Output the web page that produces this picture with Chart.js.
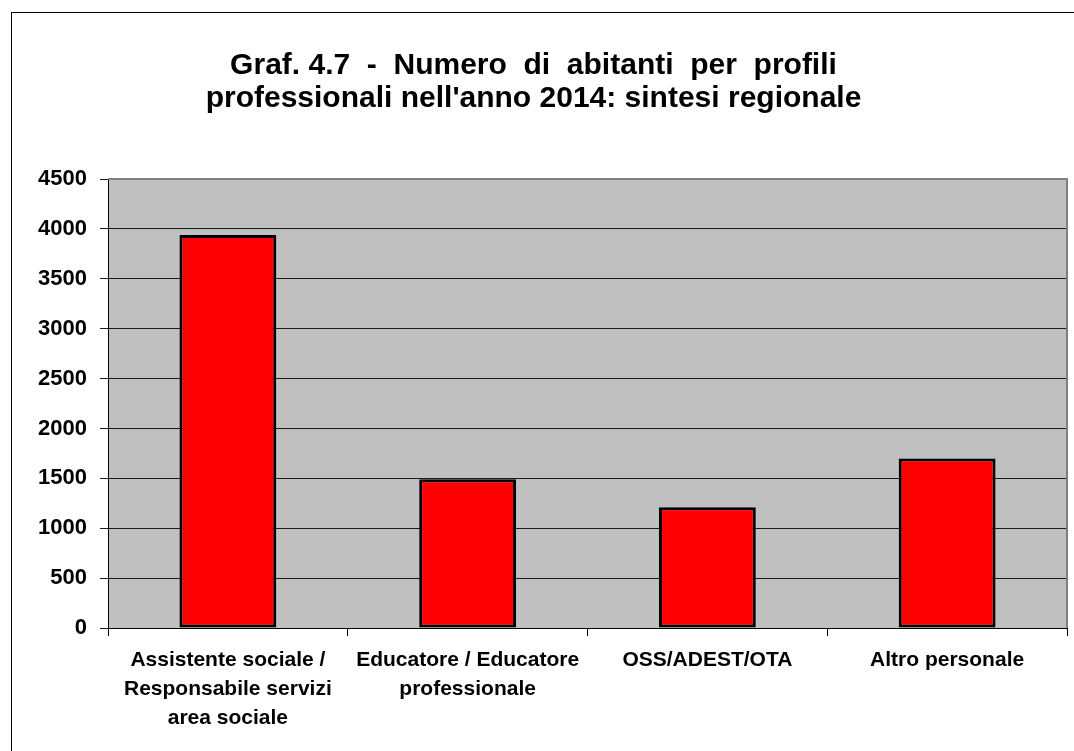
<!DOCTYPE html>
<html>
<head>
<meta charset="utf-8">
<script src="https://cdn.jsdelivr.net/npm/chart.js@4"></script>
<style>
  body { margin: 0; background: #fff; }
  #box { position: relative; width: 1074px; height: 751px; overflow: hidden; }
  #cornice { position: absolute; left: 11px; top: 12px; width: 1100px; height: 800px; border: 1px solid #000; box-sizing: border-box; }
  canvas { position: absolute; left: 0; top: 0; }
</style>
</head>
<body>
<div id="box">
  <div id="cornice"></div>
  <canvas id="graficoProfili" width="1074" height="751"></canvas>
</div>
<script>
// Dati
const profili = [
    ['Assistente sociale /', 'Responsabile servizi', 'area sociale'],
    ['Educatore / Educatore', 'professionale'],
    'OSS/ADEST/OTA',
    'Altro personale'
];
const abitanti = [3940, 1490, 1210, 1700];
const tickY = [0, 500, 1000, 1500, 2000, 2500, 3000, 3500, 4000, 4500];

// sfondo grigio dell'area del grafico + bordo
const sfondoArea = {
    id: 'sfondoArea',
    beforeDatasetsDraw(chart) {
        const a = chart.chartArea;
        const ctx = chart.ctx;
        ctx.save();
        ctx.strokeStyle = '#808080';
        ctx.lineWidth = 2;
        ctx.beginPath();
        ctx.moveTo(a.left, a.top);
        ctx.lineTo(a.right, a.top);
        ctx.lineTo(a.right, a.bottom);
        ctx.stroke();
        ctx.restore();
    },
    beforeDraw(chart) {
        const a = chart.chartArea;
        const ctx = chart.ctx;
        ctx.save();
        ctx.fillStyle = '#C0C0C0';
        ctx.fillRect(a.left, a.top, a.right - a.left, a.bottom - a.top);
        ctx.restore();
    }
};

const ctx = document.getElementById('graficoProfili').getContext('2d');

const grafico = new Chart(ctx, {
    type: 'bar',
    data: {
        labels: profili,
        datasets: [{
            data: abitanti,
            backgroundColor: '#FF0000',
            borderColor: '#000000',
            borderWidth: 3,
            borderSkipped: false,
            categoryPercentage: 1,
            barPercentage: 0.404
        }]
    },
    options: {
        responsive: false,
        animation: false,
        layout: { padding: { left: 0, right: 7, top: 0, bottom: 0 } },
        plugins: {
            legend: { display: false },
            tooltip: { enabled: false },
            title: {
                display: true,
                text: ['Graf. 4.7  -  Numero  di  abitanti  per  profili',
                       "professionali nell'anno 2014: sintesi regionale"],
                color: '#000',
                font: { family: 'Liberation Sans, Arial, sans-serif', size: 30, weight: 'bold', lineHeight: 1.1 },
                padding: { top: 49, bottom: 64 }
            }
        },
        scales: {
            x: {
                offset: true,
                grid: {
                    offset: true,
                    drawOnChartArea: false,
                    drawTicks: true,
                    tickLength: 8,
                    color: '#000'
                },
                border: { display: true, color: '#000', width: 1 },
                ticks: {
                    color: '#000',
                    padding: 10,
                    maxRotation: 0,
                    autoSkip: false,
                    font: { family: 'Liberation Sans, Arial, sans-serif', size: 21, weight: 'bold', lineHeight: 1.37 }
                },
                afterFit(scale) { scale.height = 123; }
            },
            y: {
                min: 0,
                max: 4500,
                afterBuildTicks(scale) { scale.ticks = tickY.map(v => ({ value: v })); },
                grid: {
                    color: '#1a1a1a',
                    lineWidth: 1,
                    tickLength: 8
                },
                border: { display: true, color: '#000', width: 1 },
                ticks: {
                    color: '#000',
                    padding: 13,
                    callback: v => String(v),
                    font: { family: 'Liberation Sans, Arial, sans-serif', size: 22, weight: 'bold' }
                },
                afterFit(scale) { scale.width = 108; }
            }
        }
    },
    plugins: [sfondoArea]
});
</script>
</body>
</html>
